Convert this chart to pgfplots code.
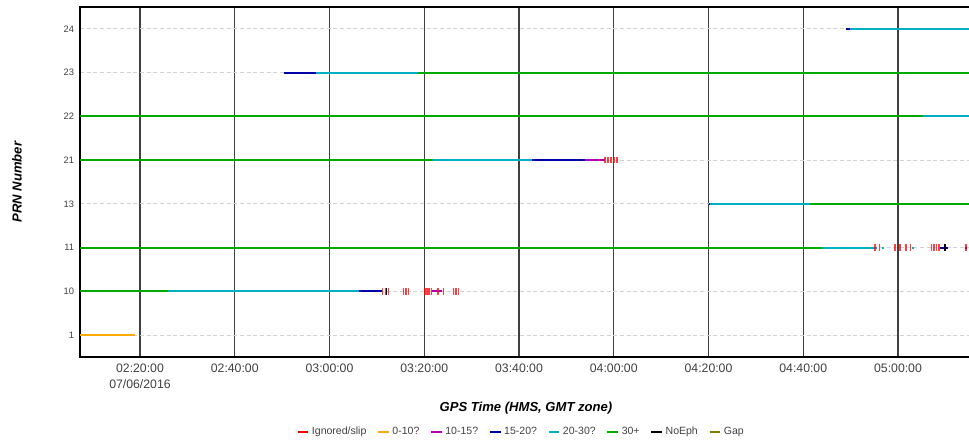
\documentclass[border=0pt]{standalone}
\usepackage{fontspec}
\setmainfont{Liberation Sans}
\usepackage{pgfplots}
\pgfplotsset{compat=1.18}
\definecolor{cRed}{RGB}{255,0,0}
\definecolor{cOrange}{RGB}{255,170,0}
\definecolor{cMag}{RGB}{180,0,180}
\definecolor{cBlue}{RGB}{0,0,170}
\definecolor{cCyan}{RGB}{0,175,192}
\definecolor{cGreen}{RGB}{0,170,0}
\definecolor{cOlive}{RGB}{128,128,0}
\definecolor{tickgray}{RGB}{64,64,64}
\begin{document}
\begin{tikzpicture}
\useasboundingbox (0,0) rectangle (726.75pt,330.75pt);
\begin{axis}[
  at={(60pt,63pt)}, anchor=south west,
  width=670.35pt, height=262.5pt, scale only axis,
  xmin=7.335, xmax=196, ymin=-0.5, ymax=7.5,
  unbounded coords=jump,
  axis line style={line width=1.5pt, black},
  major tick length=0pt,
  xtick={20,40,60,80,100,120,140,160,180},
  xticklabels={{02:20:00\\07/06/2016},02:40:00,03:00:00,03:20:00,03:40:00,04:00:00,04:20:00,04:40:00,05:00:00},
  xticklabel style={align=center, font=\fontsize{9.2}{11.5}\selectfont, text=tickgray, yshift=-2pt},
  ytick={0,1,2,3,4,5,6,7},
  yticklabels={1,10,11,13,21,22,23,24},
  yticklabel style={font=\fontsize{7}{8}\selectfont, text=tickgray, xshift=-1pt},
  xmajorgrids, ymajorgrids,
  x grid style={black!75, line width=1pt},
  y grid style={gray!35, line width=0.6pt, dash pattern=on 3pt off 2pt},
  xlabel={GPS Time (HMS, GMT zone)},
  xlabel style={at={(axis description cs:0.499,-0.147)}, anchor=center, font=\fontsize{9.8}{11}\selectfont\bfseries\itshape},
  ylabel={PRN Number},
  ylabel style={at={(axis description cs:-0.0705,0.5)}, anchor=center, rotate=0, font=\fontsize{9.8}{11}\selectfont\bfseries\itshape},
  legend style={at={(axis description cs:0.494,-0.214)}, anchor=center, draw=none, fill=none,
    font=\fontsize{7.9}{9}\selectfont, text=tickgray,
    /tikz/every even column/.append style={column sep=6pt}},
  legend columns=8,
  legend image code/.code={\draw[#1] (0pt,0pt) -- (8pt,0pt);},
  every axis plot/.append style={line width=1.6pt},
]
\addlegendimage{cRed, line width=1.5pt}
\addlegendentry{Ignored/slip}
\addlegendimage{cOrange, line width=1.5pt}
\addlegendentry{0-10?}
\addlegendimage{cMag, line width=1.5pt}
\addlegendentry{10-15?}
\addlegendimage{cBlue, line width=1.5pt}
\addlegendentry{15-20?}
\addlegendimage{cCyan, line width=1.5pt}
\addlegendentry{20-30?}
\addlegendimage{cGreen, line width=1.5pt}
\addlegendentry{30+}
\addlegendimage{black, line width=1.5pt}
\addlegendentry{NoEph}
\addlegendimage{cOlive, line width=1.5pt}
\addlegendentry{Gap}
% green (30+)
\addplot[cGreen, forget plot] coordinates {
 (7.335,1) (25.85,1) (nan,nan)
 (7.335,2) (163.9,2) (nan,nan)
 (161.4,3) (196,3) (nan,nan)
 (7.335,4) (81.8,4) (nan,nan)
 (7.335,5) (185.2,5) (nan,nan)
 (78.6,6) (196,6)
};
% cyan (20-30)
\addplot[cCyan, forget plot] coordinates {
 (25.85,1) (66.3,1) (nan,nan)
 (163.9,2) (175.5,2) (nan,nan)
 (176.6,2) (177.1,2) (nan,nan)
 (182.9,2) (183.3,2) (nan,nan)
 (140.4,3) (161.4,3) (nan,nan)
 (81.8,4) (102.8,4) (nan,nan)
 (185.2,5) (196,5) (nan,nan)
 (57.09,6) (78.6,6) (nan,nan)
 (169.9,7) (196,7)
};
% blue (15-20)
\addplot[cBlue, forget plot] coordinates {
 (66.3,1) (71.0,1) (nan,nan)
 (188.86,2) (190.62,2) (nan,nan)
 (194.2,2) (194.6,2) (nan,nan)
 (140.0,3) (140.4,3) (nan,nan)
 (102.8,4) (113.9,4) (nan,nan)
 (50.46,6) (57.09,6) (nan,nan)
 (169.0,7) (169.9,7)
};
% magenta (10-15)
\addplot[cMag, forget plot] coordinates {
 (81.57,1) (83.68,1) (nan,nan)
 (113.9,4) (118.2,4)
};
% orange (0-10)
\addplot[cOrange, forget plot] coordinates {
 (7.335,0) (18.94,0)
};
% ignored / slip marks
\addplot[only marks, mark=|, mark size=2.4pt, cRed, opacity=0.75, mark options={line width=0.9pt}, forget plot] coordinates {
 (71.23,1) (71.93,1) (72.41,1) (75.58,1) (76.15,1) (76.63,1) (80.16,1) (80.58,1)
 (81.00,1) (81.57,1) (82.90,1) (84.02,1) (86.13,1) (86.70,1) (87.19,1)
 (175.15,2) (176.06,2) (179.37,2) (180.42,2) (181.69,2) (182.68,2) (187.11,2)
 (187.60,2) (188.13,2) (188.65,2) (194.35,2)
 (118.15,4) (118.79,4) (119.42,4) (120.05,4) (120.69,4)
};
% NoEph
\addplot[only marks, mark=|, mark size=2.4pt, black, mark options={line width=0.9pt}, forget plot] coordinates {
 (189.9,2) (72.0,1)
};
\end{axis}
\end{tikzpicture}
\end{document}
